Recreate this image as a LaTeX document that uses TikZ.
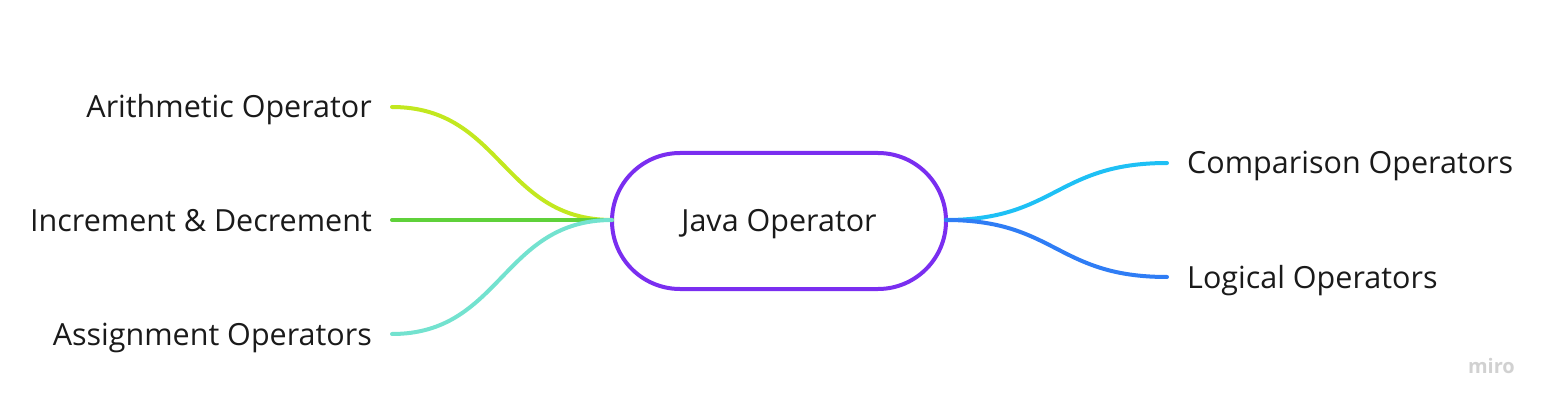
\documentclass[tikz,border=0pt]{standalone}
\usepackage{fontspec}
\setmainfont{Open Sans}
\definecolor{cpurple}{HTML}{7A2EF0}
\definecolor{clime}{HTML}{C2E81F}
\definecolor{cgreen}{HTML}{5FD13A}
\definecolor{cturq}{HTML}{73E2CF}
\definecolor{ccyan}{HTML}{1EC0F5}
\definecolor{cblue}{HTML}{2F7DF5}
\definecolor{ctext}{HTML}{1A1A1A}
\begin{document}
\begin{tikzpicture}[x=1pt,y=-1pt,
  lbl/.style={font=\fontsize{30.5}{34}\selectfont, text=ctext, inner sep=0pt},
  branch/.style={line width=4pt, line cap=round}]
\useasboundingbox (0,0) rectangle (1550,409);
\node[draw=cpurple, line width=4pt, rounded corners=68pt, minimum width=334pt, minimum height=136pt] (root) at (779,221) {};
\node[lbl, anchor=base] (roottext) at (779,231) {Java Operator};
\coordinate (rl) at (612,220);
\coordinate (rr) at (946,220);
\coordinate (a) at (392,107);
\coordinate (i) at (392,220);
\coordinate (s) at (392,334);
\coordinate (c) at (1167,163);
\coordinate (l) at (1167,277);
\node[lbl, anchor=base east] (ta) at (372,118) {Arithmetic Operator};
\node[lbl, anchor=base east] (ti) at (372,231) {Increment \& Decrement};
\node[lbl, anchor=base east] (ts) at (372,345) {Assignment Operators};
\node[lbl, anchor=base west] (tc) at (1187,174) {Comparison Operators};
\node[lbl, anchor=base west] (tl) at (1187,288) {Logical Operators};
\draw[branch, draw=clime] (a) .. controls (502,107) and (502,220) .. (rl);
\draw[branch, draw=cgreen] (i) -- (rl);
\draw[branch, draw=cturq] (s) .. controls (502,334) and (502,220) .. (rl);
\draw[branch, draw=ccyan] (rr) .. controls (1056,220) and (1056,163) .. (c);
\draw[branch, draw=cblue] (rr) .. controls (1056,220) and (1056,277) .. (l);
\node[font=\fontsize{20}{24}\selectfont\bfseries, text=black!18, anchor=east, inner sep=0pt] (miro) at (1515,366) {miro};
\end{tikzpicture}
\end{document}
